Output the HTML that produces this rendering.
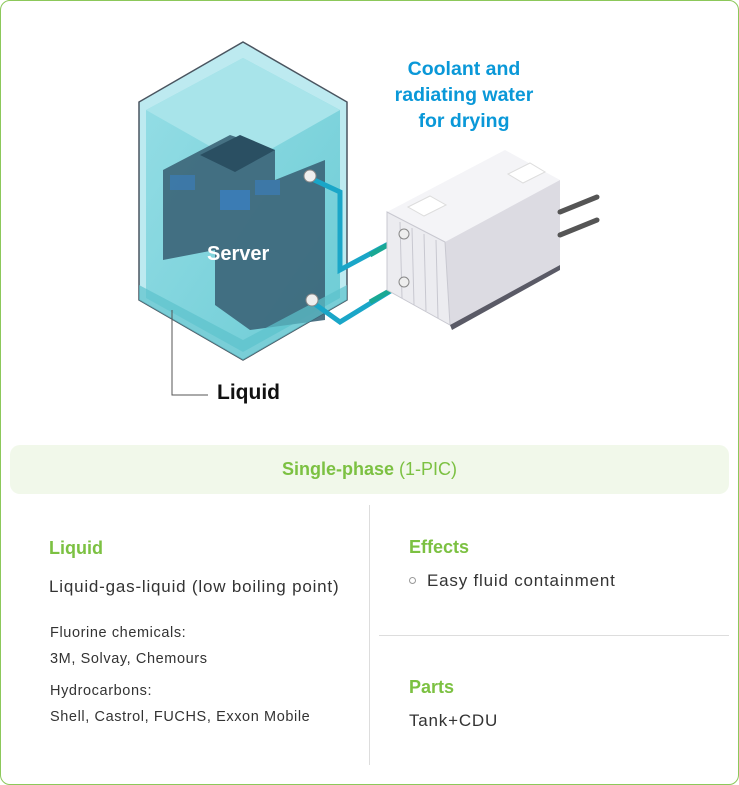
<!DOCTYPE html>
<html><head><style>
body{margin:0;width:739px;height:785px;background:#fff;position:relative;font-family:"Liberation Sans",sans-serif;overflow:hidden}
.t{position:absolute;white-space:nowrap}
.g{color:#7cc142;font-weight:bold;font-size:18px}
.b{color:#333;font-size:17px;letter-spacing:0.8px}
.s{color:#333;font-size:14.5px;letter-spacing:0.6px}
</style></head><body>
<div style="position:absolute;left:0;top:0;width:737px;height:783px;border:1px solid #8cc85a;border-radius:10px"></div>
<svg width="739" height="440" style="position:absolute;left:0;top:0">
<defs><linearGradient id="w" x1="0" y1="0" x2="1" y2="1"><stop offset="0" stop-color="#8fdce4"/><stop offset="1" stop-color="#5ec6d0"/></linearGradient></defs>
<polygon points="243,42 347,102 347,300 243,360 139,300 139,102" fill="#bdeaf0" stroke="#4a5560" stroke-width="1.5"/>
<polygon points="243,58 340,110 340,298 243,352 146,298 146,110" fill="url(#w)" opacity="0.85"/>
<polygon points="146,110 243,58 340,110 243,165" fill="#a8e4ea"/>
<polygon points="163,170 230,135 275,150 275,180 325,160 325,320 250,330 215,305 215,250 163,260" fill="#3b6478" opacity="0.9"/>
<polygon points="200,155 240,135 275,150 235,172" fill="#2a4f62"/>
<rect x="220" y="190" width="30" height="20" fill="#3a7fc0" opacity="0.8"/>
<rect x="170" y="175" width="25" height="15" fill="#3a7fc0" opacity="0.6"/>
<rect x="255" y="180" width="25" height="15" fill="#3a7fc0" opacity="0.6"/>
<polygon points="139,300 243,360 347,300 347,285 243,340 139,285" fill="#5cc2cc" opacity="0.7"/>
<polyline points="310,178 340,192 340,270 405,235" fill="none" stroke="#1aa6c8" stroke-width="5"/>
<polyline points="370,255 405,235" fill="none" stroke="#19a894" stroke-width="5"/>
<polyline points="312,302 340,322 405,282" fill="none" stroke="#1aa6c8" stroke-width="5"/>
<polyline points="370,302 405,282" fill="none" stroke="#19a894" stroke-width="5"/>
<circle cx="310" cy="176" r="6" fill="#eee" stroke="#888"/>
<circle cx="312" cy="300" r="6" fill="#eee" stroke="#888"/>
<polygon points="387,212 505,150 560,180 445,242" fill="#f4f4f7"/>
<polygon points="445,242 560,180 560,265 450,325" fill="#dcdbe2"/>
<polygon points="387,212 445,242 450,325 387,290" fill="#ececf0" stroke="#c8c8d0"/>
<polygon points="450,325 560,265 560,270 452,330" fill="#5a5a66"/>
<line x1="400" y1="222" x2="402" y2="298" stroke="#c8c8d0"/><line x1="412" y1="228" x2="414" y2="305" stroke="#c8c8d0"/><line x1="424" y1="234" x2="426" y2="311" stroke="#c8c8d0"/><line x1="436" y1="240" x2="438" y2="318" stroke="#c8c8d0"/>
<polygon points="408,207 430,196 446,205 424,216" fill="#fff" stroke="#ddd"/>
<polygon points="508,174 530,163 545,172 523,183" fill="#fff" stroke="#ddd"/>
<circle cx="404" cy="234" r="5" fill="#eee" stroke="#888"/>
<circle cx="404" cy="282" r="5" fill="#eee" stroke="#888"/>
<line x1="560" y1="212" x2="597" y2="197" stroke="#555" stroke-width="5" stroke-linecap="round"/>
<line x1="560" y1="235" x2="597" y2="220" stroke="#555" stroke-width="5" stroke-linecap="round"/>
<polyline points="172,310 172,395 208,395" fill="none" stroke="#555" stroke-width="1"/>
</svg>
<div class="t" style="left:364px;top:56px;width:200px;text-align:center;color:#0a98d8;font-weight:bold;font-size:19.5px;line-height:26px">Coolant and<br>radiating water<br>for drying</div>
<div class="t" style="left:207px;top:243px;color:#fff;font-weight:bold;font-size:20px">Server</div>
<div class="t" style="left:217px;top:381px;color:#111;font-weight:bold;font-size:21px">Liquid</div>
<div style="position:absolute;left:10px;top:445px;width:719px;height:49px;background:#f1f8ea;border-radius:10px"></div>
<div class="t" style="left:0;top:459px;width:739px;text-align:center;color:#7cc142;font-size:18px"><b>Single-phase</b> (1-PIC)</div>
<div style="position:absolute;left:369px;top:505px;width:1px;height:260px;background:#ddd"></div>
<div style="position:absolute;left:379px;top:635px;width:350px;height:1px;background:#ddd"></div>
<div class="t g" style="left:49px;top:538px">Liquid</div>
<div class="t b" style="left:49px;top:577px">Liquid-gas-liquid (low boiling point)</div>
<div class="t s" style="left:50px;top:625px">Fluorine chemicals:</div>
<div class="t s" style="left:50px;top:651px">3M, Solvay, Chemours</div>
<div class="t s" style="left:50px;top:683px">Hydrocarbons:</div>
<div class="t s" style="left:50px;top:709px">Shell, Castrol, FUCHS, Exxon Mobile</div>
<div class="t g" style="left:409px;top:537px">Effects</div>
<div style="position:absolute;left:409px;top:577px;width:5px;height:5px;border:1px solid #999;border-radius:50%"></div>
<div class="t b" style="left:427px;top:571px">Easy fluid containment</div>
<div class="t g" style="left:409px;top:677px">Parts</div>
<div class="t b" style="left:409px;top:711px">Tank+CDU</div>
</body></html>
